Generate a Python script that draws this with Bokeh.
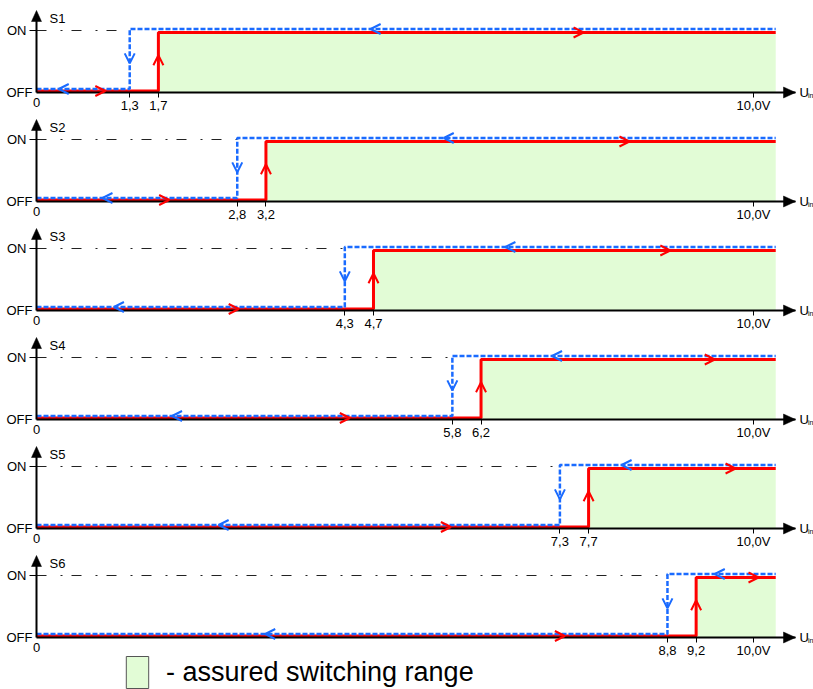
from bokeh.plotting import figure
from bokeh.layouts import column
from bokeh.models import (ColumnDataSource, LinearAxis, FixedTicker, Arrow, OpenHead,
                          Legend, LegendItem)
from bokeh.core.properties import value
from bokeh.embed import file_html
from bokeh.resources import INLINE

# ---------------- data ----------------
switches = ["S1", "S2", "S3", "S4", "S5", "S6"]
u_switch_off = [1.3, 2.8, 4.3, 5.8, 7.3, 8.8]   # falling input: switch turns OFF (blue)
u_switch_on = [1.7, 3.2, 4.7, 6.2, 7.7, 9.2]    # rising input: switch turns ON (red)
u_full_scale = 10.0
u_line_end = 10.31
state_values = [0, 1]
state_labels = ["OFF", "ON"]
# direction-chevron centres along the traces (V)
blue_chev_off = [0.38, 0.99, 1.15, 1.96, 2.61, 3.26]
red_chev_off = [0.89, 1.78, 2.75, 4.30, 5.71, 7.30]
blue_chev_on = [4.73, 5.75, 6.61, 7.26, 8.23, 9.53]
red_chev_on = [7.56, 8.20, 8.77, 9.39, 9.68, 10.00]
legend_text = "- assured switching range"

# ---------------- style / layout ----------------
FONT = "Liberation Sans"
RED = "#ff0000"
BLUE = "#1a6bff"
GREEN = "#e2fcd6"
W = 813
HEIGHTS = [117, 109, 109, 109, 109, 136]
OFF_PX = [92, 84, 84, 84, 84, 84]   # px of OFF level from top of each panel
OX = 36.0      # px of U=0 from left
PXX = 71.7     # px per volt
PXY = 62.0     # px per state unit


def dx(px):
    return px / PXX


def dy(px):
    return px / PXY


def fmt(v):
    return f"{v:.1f}".replace(".", ",")


X_TIP = (795 - OX) / PXX
Y_TIP = dy(82)
OFF_LV = 0
ON_LV = 1
red_off, red_on = OFF_LV + dy(1.5), ON_LV - dy(2.0)
blue_off, blue_on = OFF_LV + dy(3.5), ON_LV + dy(1.5)


def style_axis(ax, tick_out, stand):
    ax.axis_line_width = 2
    ax.axis_line_color = "black"
    ax.major_tick_out = tick_out
    ax.major_tick_in = 0
    ax.major_tick_line_color = "black"
    ax.minor_tick_out = 0
    ax.minor_tick_in = 0
    ax.major_label_standoff = stand
    ax.major_label_text_font = FONT
    ax.major_label_text_font_size = "13px"
    ax.major_label_text_color = "black"


figs = []
for k, name in enumerate(switches):
    h = HEIGHTS[k]
    oy = OFF_PX[k]
    p = figure(width=W, height=h, output_backend="svg", toolbar_location=None,
               x_axis_type=None, y_axis_type=None, min_border=0,
               x_range=(-OX / PXX, (W - OX) / PXX),
               y_range=(-(h - oy) / PXY, oy / PXY))
    p.outline_line_color = None
    p.background_fill_color = "white"
    uo, un = u_switch_off[k], u_switch_on[k]

    # assured switching range
    p.quad(left=[un], right=[u_line_end], bottom=[OFF_LV], top=[red_on],
           fill_color=GREEN, line_color=None)
    # ON reference dash-dot line
    p.line([0, uo], [ON_LV, ON_LV], line_color="#222222", line_width=1,
           line_dash="10 14 2 9")
    # rising trace (red)
    p.line([0, un, un, u_line_end], [red_off, red_off, red_on, red_on],
           line_color=RED, line_width=3)
    # falling trace (blue, dashed)
    p.line([0, uo, uo, u_line_end], [blue_off, blue_off, blue_on, blue_on],
           line_color=BLUE, line_width=2.5, line_dash="5 2")

    # axes arrows
    p.patch([X_TIP, X_TIP - dx(12), X_TIP - dx(12)], [0, dy(5.5), -dy(5.5)],
            fill_color="black", line_color="black", line_width=0.5)
    p.patch([0, -dx(5), dx(5)], [Y_TIP, Y_TIP - dy(11), Y_TIP - dy(11)],
            fill_color="black", line_color="black", line_width=0.5)

    # x axes
    xa = LinearAxis(fixed_location=0, bounds=(0, X_TIP),
                    ticker=FixedTicker(ticks=[uo, un, u_full_scale]),
                    major_label_overrides={uo: fmt(uo), un: fmt(un),
                                           u_full_scale: fmt(u_full_scale) + "V"})
    xa0 = LinearAxis(fixed_location=0, ticker=FixedTicker(ticks=[0]),
                     major_label_overrides={0: "0"})
    style_axis(xa, 5, 0)
    style_axis(xa0, 0, 5)
    xa0.axis_line_color = None
    p.add_layout(xa, "below")
    p.add_layout(xa0, "below")

    # y axes
    ya = LinearAxis(fixed_location=0, bounds=(0, Y_TIP - dy(6)),
                    ticker=FixedTicker(ticks=[state_values[1]]),
                    major_label_overrides={state_values[1]: state_labels[1]})
    ya0 = LinearAxis(fixed_location=0, ticker=FixedTicker(ticks=[state_values[0]]),
                     major_label_overrides={state_values[0]: state_labels[0]})
    style_axis(ya, 7, 3)
    style_axis(ya0, 0, 4)
    ya0.axis_line_color = None
    p.add_layout(ya, "left")
    p.add_layout(ya0, "left")

    # labels
    p.text(x=[dx(13)], y=[dy(81.5)], text=[name], text_align="left",
           text_baseline="top", text_font=value(FONT), text_font_size="13px",
           text_color="black")
    p.text(x=[(799 - OX) / PXX], y=[0], text=["U"], text_align="left",
           text_baseline="middle", text_font=value(FONT), text_font_size="13px",
           text_color="black")
    p.text(x=[(807.5 - OX) / PXX], y=[-dy(3)], text=["in"], text_align="left",
           text_baseline="middle", text_font=value(FONT), text_font_size="7px",
           text_color="black")

    # direction chevrons
    half = dx(5)
    blue_src = ColumnDataSource(dict(
        x0=[blue_chev_off[k] + 3 * half, blue_chev_on[k] + 3 * half, uo],
        x1=[blue_chev_off[k] - half, blue_chev_on[k] - half, uo],
        y0=[blue_off, blue_on, 0.47 + dy(10)],
        y1=[blue_off, blue_on, 0.47]))
    red_src = ColumnDataSource(dict(
        x0=[red_chev_off[k] - 3 * half, red_chev_on[k] - 3 * half, un],
        x1=[red_chev_off[k] + half, red_chev_on[k] + half, un],
        y0=[red_off, red_on, 0.6 - dy(10)],
        y1=[red_off, red_on, 0.6]))
    for src, col in ((blue_src, BLUE), (red_src, RED)):
        p.add_layout(Arrow(source=src, x_start="x0", y_start="y0", x_end="x1", y_end="y1",
                           line_alpha=0,
                           end=OpenHead(size=10, line_color=col, line_width=2)))

    if k == len(switches) - 1:
        # legend proxy drawn outside the visible range
        proxy = p.quad(left=[-6.0], right=[-5.5], bottom=[0], top=[1], fill_color=GREEN,
                       line_color="#555555", line_width=1)
        leg = Legend(items=[LegendItem(label=value(legend_text), renderers=[proxy])],
                     location=(123, -3), glyph_width=28, glyph_height=40,
                     label_standoff=15, padding=0, margin=0, spacing=0,
                     border_line_color=None, background_fill_alpha=0,
                     label_text_font=FONT, label_text_font_size="27px",
                     label_text_color="black")
        p.add_layout(leg)
    figs.append(p)

layout = column(*figs, spacing=0)
open("out.html", "w").write(file_html(layout, INLINE))
